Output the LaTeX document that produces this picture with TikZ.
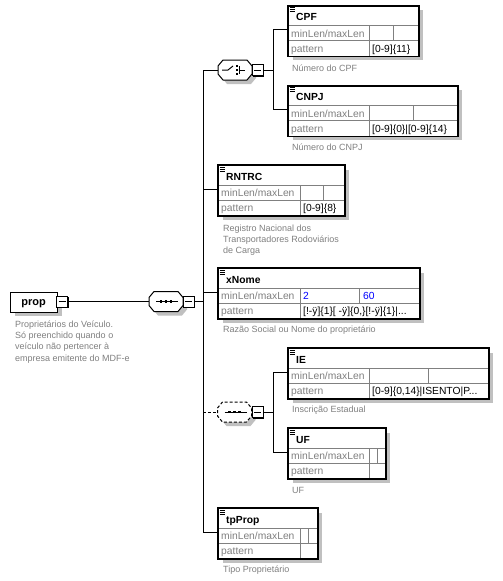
\documentclass[tikz,border=0pt]{standalone}
\usepackage{fontspec}
\setmainfont{Liberation Sans}
\usetikzlibrary{shadows}
\definecolor{lblgray}{HTML}{808080}
\definecolor{shadowgray}{HTML}{C0C0C0}
\definecolor{gridgray}{HTML}{808080}
\definecolor{valblue}{HTML}{0000FF}
\tikzset{
  pxshadow/.style={drop shadow={shadow xshift=4pt, shadow yshift=-4pt, fill=shadowgray, opacity=1}},
  elem/.style={draw=black, line width=1.2pt, fill=white, anchor=north west, inner sep=0pt, minimum height=50pt, pxshadow},
  gridline/.style={draw=gridgray, line width=0.9pt},
  rowlbl/.style={anchor=base west, inner sep=0pt, text=lblgray, font=\fontsize{10.3}{12}\selectfont},
  celltxt/.style={anchor=base west, inner sep=0pt, font=\fontsize{10.3}{12}\selectfont},
  titletxt/.style={anchor=base west, inner sep=0pt, font=\bfseries\fontsize{10.3}{12}\selectfont},
  desc/.style={anchor=base west, inner sep=0pt, text=lblgray, align=left, font=\fontsize{9}{11.3}\selectfont},
  conn/.style={line width=1pt},
  minusbox/.style={draw=black, line width=1pt, fill=white, minimum size=11pt, inner sep=0pt,
    drop shadow={shadow xshift=1pt, shadow yshift=-1pt, fill=black, opacity=1},
    path picture={\draw[line width=1pt] ([xshift=2pt]path picture bounding box.west) -- ([xshift=-2pt]path picture bounding box.east);}},
  octo/.style={draw=black, line width=1pt, fill=white, pxshadow},
  octnode/.style={minimum width=34pt, minimum height=20pt, inner sep=0pt},
}
\newcommand\octpath[3][]{%
  \path[octo,#1] (#2-17,#3-4) -- (#2-12,#3-10) -- (#2+12,#3-10) -- (#2+17,#3-4) -- (#2+17,#3+4) -- (#2+12,#3+10) -- (#2-12,#3+10) -- (#2-17,#3+4) -- cycle;}
\newcommand\seqglyph[2]{%
  \draw[line width=1pt] (#1-10,#2) -- (#1+12,#2);
  \foreach \d in {-5,0,5} \fill (#1+\d-1.3,#2-1.3) rectangle ++(2.6,2.6);}
\newcommand\elbox[7]{%
  \node[elem, minimum width=#4pt-#2pt] (#1) at (#2,#3) {};
  \draw[gridline] (#2,#3+20) -- (#4,#3+20) (#2,#3+35) -- (#4,#3+35) (#5,#3+20) -- (#5,#3+50) (#6,#3+20) -- (#6,#3+35);
  \draw[line width=1.2pt] (#1.north west) rectangle (#1.south east);
  \foreach \k in {2,4,6} \draw[line width=0.7pt] (#2+1.5,#3+\k) -- (#2+6.5,#3+\k);
  \node[titletxt] (#1-t) at (#2+8,#3+15) {#7};
  \node[rowlbl] (#1-r1) at (#2+3,#3+31.5) {minLen/maxLen};
  \node[rowlbl] (#1-r2) at (#2+3,#3+46.5) {pattern};
  \coordinate (#1-in) at (#2,#3+24);
}
\begin{document}
\begin{tikzpicture}[x=1pt,y=-1pt]
\fill[white] (0,0) rectangle (503,581);
\useasboundingbox (0,0) rectangle (503,581);

% root element
\node[draw=black, line width=1.2pt, fill=white, anchor=north west, inner sep=0pt, minimum width=47pt, minimum height=20pt, pxshadow] (prop) at (10,291.5) {};
\node[anchor=base, inner sep=0pt, font=\bfseries\fontsize{11}{13}\selectfont] (prop-t) at (33.5,305.5) {prop};
\node[minusbox] (propm) at (62,301.5) {};
\node[desc] (prop-d) at (15,361) {Proprietários do Veículo.\\Só preenchido quando o\\veículo não pertencer à\\empresa emitente do MDF-e};

% main sequence
\octpath{166}{301.5}
\node[octnode] (seqO) at (166,301.5) {};
\seqglyph{166}{301.5}
\node[minusbox] (seqM) at (188.5,301.5) {};
\draw[conn] (propm.east) -- (seqO.west);

% choice
\octpath{235}{70}
\node[octnode] (chO) at (235,70) {};
\draw[line width=1pt] (222,70) -- (228,70) -- (233,66);
\foreach \d in {-4,0,4} \fill (236,70+\d-1) rectangle ++(2.2,2.2);
\draw[line width=1pt] (239.5,66) -- (239.5,74) (239.5,70) -- (245,70);
\node[minusbox] (chM) at (257.5,70) {};
\coordinate (chJ) at (273,70);

% optional sequence
\octpath[dashed, dash pattern=on 3pt off 2pt]{234.5}{412}
\node[octnode] (optO) at (234.5,412) {};
\seqglyph{234.5}{412}
\node[minusbox] (optM) at (257.5,412) {};
\coordinate (optJ) at (273,412);

% elements
\elbox{cpf}{288}{5.5}{418}{369}{393}{CPF}
\elbox{cnpj}{288}{85.5}{457}{369}{413}{CNPJ}
\elbox{rntrc}{218}{165}{344}{300}{323}{RNTRC}
\elbox{xnome}{218}{268}{419}{300}{359}{xNome}
\elbox{ie}{288}{348}{488}{369}{428}{IE}
\elbox{uf}{288}{428}{385}{369}{377}{UF}
\elbox{tpprop}{218}{508}{317}{300}{308}{tpProp}

% cell values
\node[celltxt] (cpf-p) at (372,52) {[0-9]\{11\}};
\node[celltxt] (cnpj-p) at (372,132) {[0-9]\{0\}|[0-9]\{14\}};
\node[celltxt] (rntrc-p) at (303,211.5) {[0-9]\{8\}};
\node[celltxt, text=valblue] (xnome-min) at (303,299.5) {2};
\node[celltxt, text=valblue] (xnome-max) at (363,299.5) {60};
\node[celltxt] (xnome-p) at (303,314.5) {[!-ÿ]\{1\}[ -ÿ]\{0,\}[!-ÿ]\{1\}|...};
\node[celltxt] (ie-p) at (372,394.5) {[0-9]\{0,14\}|ISENTO|P...};

% descriptions
\node[desc] (cpf-d) at (292,71.5) {Número do CPF};
\node[desc] (cnpj-d) at (292,150.5) {Número do CNPJ};
\node[desc] (rntrc-d) at (223,253.6) {Registro Nacional dos\\Transportadores Rodoviários\\de Carga};
\node[desc] (xnome-d) at (223,332.5) {Razão Social ou Nome do proprietário};
\node[desc] (ie-d) at (292,412.5) {Inscrição Estadual};
\node[desc] (uf-d) at (292,493) {UF};
\node[desc] (tpprop-d) at (223,572) {Tipo Proprietário};

% connectors
\coordinate (spT) at (203,70);
\draw[conn] (chO.west) -- (spT) -- (spT |- tpprop-in) -- (tpprop-in);
\draw[conn] (seqM.east) -- (spT |- seqM.east);
\draw[conn] (spT |- rntrc-in) -- (rntrc-in);
\draw[conn] (spT |- xnome-in) -- (xnome-in);
\draw[conn, dashed, dash pattern=on 3pt off 2pt] (spT |- optO.west) -- (optO.west);
\draw[conn] (chM.east) -- (chJ);
\draw[conn] (chJ |- cpf-in) -- (chJ |- cnpj-in);
\draw[conn] (chJ |- cpf-in) -- (cpf-in);
\draw[conn] (chJ |- cnpj-in) -- (cnpj-in);
\draw[conn] (optM.east) -- (optJ);
\draw[conn] (optJ |- ie-in) -- (optJ |- uf-in);
\draw[conn] (optJ |- ie-in) -- (ie-in);
\draw[conn] (optJ |- uf-in) -- (uf-in);
\end{tikzpicture}
\end{document}
